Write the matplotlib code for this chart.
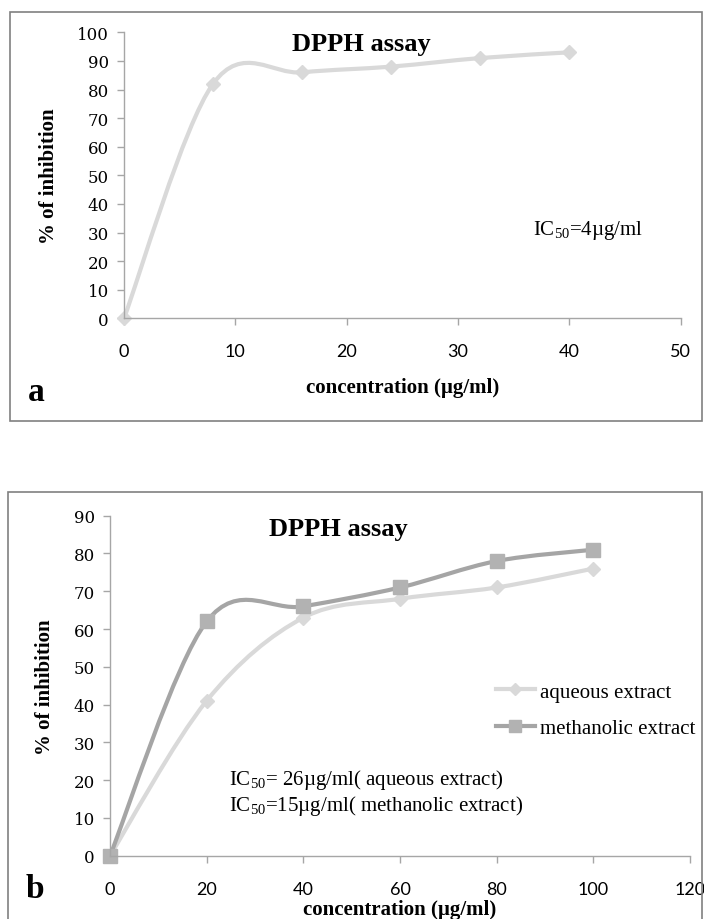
import matplotlib
matplotlib.use('Agg')
import matplotlib.pyplot as plt
from matplotlib.path import Path
from matplotlib.patches import PathPatch, Rectangle
from matplotlib.lines import Line2D

plt.rcParams['font.family'] = ['Liberation Serif', 'DejaVu Serif']
plt.rcParams['mathtext.fontset'] = 'custom'
plt.rcParams['mathtext.rm'] = 'Liberation Serif'
plt.rcParams['mathtext.it'] = 'Liberation Serif:italic'

# panel a
conc_a = [0, 8, 16, 24, 32, 40]
inhib_a = [0, 82, 86, 88, 91, 93]

# panel b
conc_b = [0, 20, 40, 60, 80, 100]
aqueous = [0, 41, 63, 68, 71, 76]
methanolic = [0, 62, 66, 71, 78, 81]

light = '#d9d9d9'
dark_line = '#a5a5a5'
dark_mark = '#b2b2b2'
axis_col = '#a6a6a6'
W, H = 704, 920


def smooth_path(xs, ys):
    # excel style smoothed line: bezier through each point
    pts = list(zip(xs, ys))
    n = len(pts)
    verts = [pts[0]]
    codes = [Path.MOVETO]
    for i in range(n - 1):
        p0 = pts[max(i - 1, 0)]
        p1 = pts[i]
        p2 = pts[i + 1]
        p3 = pts[min(i + 2, n - 1)]
        c1 = (p1[0] + (p2[0] - p0[0]) / 6, p1[1] + (p2[1] - p0[1]) / 6)
        c2 = (p2[0] - (p3[0] - p1[0]) / 6, p2[1] - (p3[1] - p1[1]) / 6)
        verts += [c1, c2, p2]
        codes += [Path.CURVE4] * 3
    return Path(verts, codes)


def style_axes(ax):
    for s in ['top', 'right']:
        ax.spines[s].set_visible(False)
    for s in ['left', 'bottom']:
        ax.spines[s].set_color(axis_col)
        ax.spines[s].set_linewidth(1.0)
    ax.tick_params(axis='both', colors=axis_col, length=5, width=1.0)
    ax.tick_params(axis='y', labelcolor='black', pad=6)
    ax.tick_params(axis='x', labelcolor='black', pad=13)
    for lab in ax.get_yticklabels():
        lab.set_family('DejaVu Serif')
        lab.set_fontsize(12)
    for lab in ax.get_xticklabels():
        lab.set_family('Lato')
        lab.set_fontsize(13)


def fx(px):
    return px / W


def fy(py):
    return 1 - py / H


fig = plt.figure(figsize=(7.04, 9.2), dpi=100)

# frames around the two panels
fig.add_artist(Rectangle((fx(10), fy(422)), fx(692), (422 - 13) / H, transform=fig.transFigure,
                         fill=False, edgecolor='#808080', linewidth=1.2))
fig.add_artist(Rectangle((fx(8), -0.01), fx(694), fy(493) + 0.01, transform=fig.transFigure,
                         fill=False, edgecolor='#808080', linewidth=1.2))

# ---- panel a ----
ax1 = fig.add_axes([fx(124), fy(319.3), fx(680.7 - 124), (319.3 - 33.3) / H])
ax1.set_xlim(0, 50)
ax1.set_ylim(0, 100)
ax1.set_xticks(range(0, 51, 10))
ax1.set_yticks(range(0, 101, 10))
ax1.add_patch(PathPatch(smooth_path(conc_a, inhib_a), fill=False, edgecolor=light, linewidth=3, clip_on=False))
ax1.plot(conc_a, inhib_a, linestyle='none', marker='D', markersize=7, color=light, clip_on=False)
style_axes(ax1)

fig.text(fx(361), fy(51), 'DPPH assay', ha='center', va='baseline', fontsize=19, fontweight='bold')
fig.text(fx(49), fy(176), '% of inhibition', rotation=90, ha='center', va='center', fontsize=15, fontweight='bold')
fig.text(fx(403), fy(388), 'concentration (µg/ml)', ha='center', va='center', fontsize=15, fontweight='bold')
fig.text(fx(533), fy(230), r'IC$_{\mathrm{50}}$=4µg/ml', ha='left', va='center', fontsize=15)
fig.text(fx(36), fy(393), 'a', ha='center', va='center', fontsize=24, fontweight='bold')

# ---- panel b ----
ax2 = fig.add_axes([fx(110), fy(856.7), fx(690 - 110), (856.7 - 516.7) / H])
ax2.set_xlim(0, 120)
ax2.set_ylim(0, 90)
ax2.set_xticks(range(0, 121, 20))
ax2.set_yticks(range(0, 91, 10))
ax2.add_patch(PathPatch(smooth_path(conc_b, aqueous), fill=False, edgecolor=light, linewidth=3, clip_on=False))
ax2.plot(conc_b, aqueous, linestyle='none', marker='D', markersize=7, color=light, clip_on=False)
ax2.add_patch(PathPatch(smooth_path(conc_b, methanolic), fill=False, edgecolor=dark_line, linewidth=3, clip_on=False))
ax2.plot(conc_b, methanolic, linestyle='none', marker='s', markersize=10, color=dark_mark, clip_on=False)
style_axes(ax2)

handles = [Line2D([], [], color=light, linewidth=3, marker='D', markersize=6),
           Line2D([], [], color=dark_line, linewidth=3, marker='s', markersize=8, markerfacecolor=dark_mark,
                  markeredgecolor=dark_mark)]
fig.legend(handles, ['aqueous extract', 'methanolic extract'], loc='center left',
           bbox_to_anchor=(fx(496), fy(711)), frameon=False, fontsize=15, borderpad=0, borderaxespad=0,
           handlelength=1.85, handletextpad=0.25, labelspacing=0.8)

fig.text(fx(338), fy(536), 'DPPH assay', ha='center', va='baseline', fontsize=19, fontweight='bold')
fig.text(fx(45), fy(687), '% of inhibition', rotation=90, ha='center', va='center', fontsize=15, fontweight='bold')
fig.text(fx(400), fy(910), 'concentration (µg/ml)', ha='center', va='center', fontsize=15, fontweight='bold')
fig.text(fx(229), fy(780), r'IC$_{\mathrm{50}}$= 26µg/ml( aqueous extract)', ha='left', va='center', fontsize=15)
fig.text(fx(229), fy(806), r'IC$_{\mathrm{50}}$=15µg/ml( methanolic extract)', ha='left', va='center', fontsize=15)
fig.text(fx(35), fy(890), 'b', ha='center', va='center', fontsize=24, fontweight='bold')

fig.savefig('out.png', dpi=100)
